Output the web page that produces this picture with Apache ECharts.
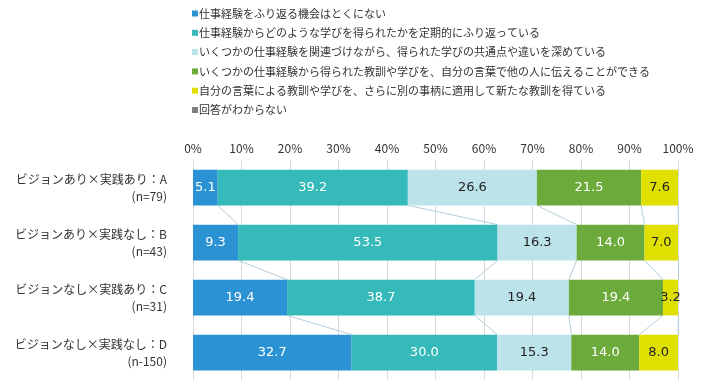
<!DOCTYPE html>
<html><head><meta charset="utf-8">
<script src="https://cdn.jsdelivr.net/npm/echarts@6/dist/echarts.min.js"></script>
<style>html,body{margin:0;padding:0;background:#fff;}#c{width:710px;height:389px;}</style>
</head><body><div id="c"></div>
<script>
const categories = ['ビジョンあり×実践あり：A','ビジョンあり×実践なし：B','ビジョンなし×実践あり：C','ビジョンなし×実践なし：D'];
const sampleSizes = ['(n=79)','(n=43)','(n=31)','(n-150)'];
const seriesNames = [
  '仕事経験をふり返る機会はとくにない',
  '仕事経験からどのような学びを得られたかを定期的にふり返っている',
  'いくつかの仕事経験を関連づけながら、得られた学びの共通点や違いを深めている',
  'いくつかの仕事経験から得られた教訓や学びを、自分の言葉で他の人に伝えることができる',
  '自分の言葉による教訓や学びを、さらに別の事柄に適用して新たな教訓を得ている',
  '回答がわからない'
];
const s1 = [5.1, 9.3, 19.4, 32.7];
const s2 = [39.2, 53.5, 38.7, 30.0];
const s3 = [26.6, 16.3, 19.4, 15.3];
const s4 = [21.5, 14.0, 19.4, 14.0];
const s5 = [7.6, 7.0, 3.2, 8.0];
const s6 = [0, 0, 0, 0];
const xTicks = [0,10,20,30,40,50,60,70,80,90,100];

const colors = ['#2b92d4','#35b9b9','#bde3ea','#6cab3b','#dfe000','#7f7f7f'];
const labelColors = ['#fff','#fff','#222','#fff','#222','#fff'];
const allSeries = [s1,s2,s3,s4,s5,s6];

const connectors = [];
for (let i = 0; i < categories.length - 1; i++) {
  let c1 = 0, c2 = 0;
  for (let k = 0; k < 5; k++) {
    c1 += allSeries[k][i]; c2 += allSeries[k][i+1];
    connectors.push([c1, i, c2]);
  }
}

const series = allSeries.map((d, k) => ({
  name: seriesNames[k], type: 'bar', stack: 'all', barWidth: '65%',
  itemStyle: { color: colors[k] },
  label: { show: k < 5, position: 'inside', color: labelColors[k], fontSize: 13,
    fontFamily: 'DejaVu Sans', formatter: p => p.value > 0 ? p.value.toFixed(1) : '' },
  data: d, z: 3
}));
series.push({
  type: 'custom', name: 'conn', silent: true, z: 2,
  renderItem: function (params, api) {
    const x1 = api.value(0), i = api.value(1), x2 = api.value(2);
    const p1 = api.coord([x1, i]);
    const p2 = api.coord([x2, i + 1]);
    const half = api.size([0, 1])[1] * 0.65 / 2;
    return { type: 'line', shape: { x1: p1[0], y1: p1[1] + half, x2: p2[0], y2: p2[1] - half },
      style: { stroke: '#b3cdd8', lineWidth: 1 } };
  },
  encode: { x: [0, 2], y: 1 },
  data: connectors
});

const chart = echarts.init(document.getElementById('c'));
chart.setOption({
  animation: false,
  textStyle: { fontFamily: '"Noto Sans CJK JP", sans-serif' },
  legend: {
    orient: 'vertical', left: 187, top: 3, itemWidth: 6, itemHeight: 6, itemGap: 8.3,
    icon: 'rect', data: seriesNames,
    textStyle: { fontSize: 11, color: '#333', padding: [0,0,0,-4] }
  },
  grid: { left: 193, right: 32, top: 160, bottom: 9 },
  xAxis: {
    type: 'value', position: 'top', min: 0, max: 100, interval: 10,
    axisLine: { show: false }, axisTick: { show: false },
    splitLine: { lineStyle: { color: '#d9d9d9' } },
    axisLabel: { formatter: v => v + '%', color: '#333', fontSize: 12, margin: 6 }
  },
  yAxis: {
    type: 'category', inverse: true, data: categories,
    axisLine: { show: false }, axisTick: { show: false },
    axisLabel: { margin: 26, color: '#333', fontSize: 12, lineHeight: 17,
      formatter: (v, idx) => v + '\n' + sampleSizes[idx] }
  },
  series: series
});
</script></body></html>
